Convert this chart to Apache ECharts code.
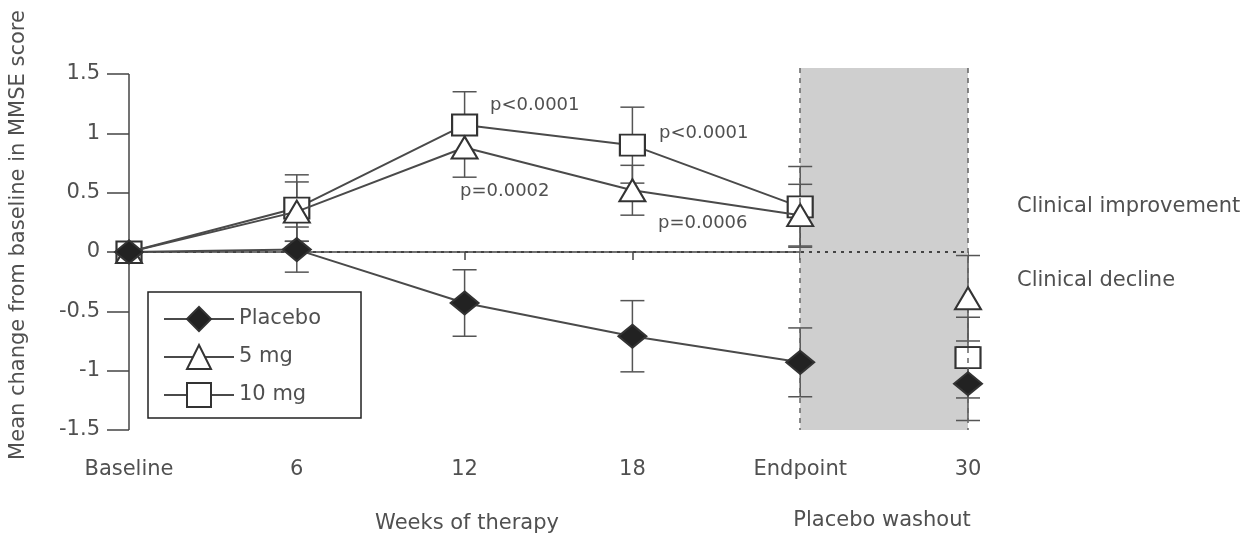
<!DOCTYPE html>
<html>
<head>
<meta charset="utf-8">
<script src="https://cdn.jsdelivr.net/npm/echarts@6/dist/echarts.min.js"></script>
<style>html,body{margin:0;padding:0;background:#fff}#c{width:1240px;height:541px}</style>
</head>
<body>
<div id="c"></div>
<script>
const categories = ['Baseline', '6', '12', '18', 'Endpoint', '30'];
const yTicks = [-1.5, -1, -0.5, 0, 0.5, 1, 1.5];
const placebo = [0, 0.02, -0.43, -0.71, -0.93, -1.11];
const placeboErr = [0, 0.19, 0.28, 0.30, 0.29, 0.31];
const mg5 = [0, 0.34, 0.88, 0.52, 0.31, -0.39];
const mg5Err = [0, 0.25, 0.25, 0.21, 0.26, 0.36];
const mg10 = [0, 0.37, 1.07, 0.90, 0.38, -0.89];
const mg10Err = [0, 0.28, 0.28, 0.32, 0.34, 0.34];
const seriesNames = ['Placebo', '5 mg', '10 mg'];
const pLabels = ['p<0.0001', 'p<0.0001', 'p=0.0002', 'p=0.0006', 'p=0.0002', 'p=0.0007'];
const shadeTop = 1.55;

const FONT = 'DejaVu Sans';
const TXT = '#505050';
const LINE = '#4a4a4a';
const washIdx = categories.length - 1;
const yMin = yTicks[0], yMaxTick = yTicks[yTicks.length - 1];

function lineData(vals) { return vals.map((v, i) => i === washIdx ? '-' : v); }
function washData(vals) { return [[washIdx, vals[washIdx]]]; }
function errData(vals, errs) {
  const out = [];
  vals.forEach((v, i) => { if (errs[i] > 0) out.push([i, v - errs[i], v + errs[i]]); });
  return out;
}
function renderErr(params, api) {
  const x = api.value(0);
  const lo = api.coord([x, api.value(1)]);
  const hi = api.coord([x, api.value(2)]);
  const w = 12;
  const st = { stroke: '#555', lineWidth: 1.5 };
  return { type: 'group', children: [
    { type: 'line', shape: { x1: lo[0], y1: lo[1], x2: hi[0], y2: hi[1] }, style: st },
    { type: 'line', shape: { x1: lo[0] - w, y1: lo[1], x2: lo[0] + w, y2: lo[1] }, style: st },
    { type: 'line', shape: { x1: hi[0] - w, y1: hi[1], x2: hi[0] + w, y2: hi[1] }, style: st }
  ]};
}

const styles = [
  { name: seriesNames[2], vals: mg10, errs: mg10Err, symbol: 'rect', size: [25, 21], fill: '#fff' },
  { name: seriesNames[1], vals: mg5, errs: mg5Err, symbol: 'triangle', size: [26, 22], fill: '#fff' },
  { name: seriesNames[0], vals: placebo, errs: placeboErr, symbol: 'diamond', size: [28, 23], fill: '#222' }
];

const series = [];
// shading
series.push({
  type: 'line', name: 'shade', data: [], silent: true, z: 0,
  markArea: {
    silent: true,
    itemStyle: { color: '#cfcfcf' },
    data: [[{ xAxis: categories[4], yAxis: shadeTop }, { xAxis: categories[5], yAxis: yMin }]]
  }
});
// guide lines: washout borders, zero line, y axis line
const dashV = { color: '#666', width: 1.5, type: [5, 5] };
series.push({
  type: 'line', name: 'guides', data: [], silent: true, z: 2,
  markLine: {
    silent: true, symbol: 'none', label: { show: false },
    data: [
      [{ coord: [categories[4], shadeTop], lineStyle: dashV }, { coord: [categories[4], yMin] }],
      [{ coord: [categories[5], shadeTop], lineStyle: dashV }, { coord: [categories[5], yMin] }],
      { yAxis: 0, lineStyle: { color: '#444', width: 2, type: [3, 5] } },
      [{ coord: [categories[0], yMaxTick], lineStyle: { color: '#444', width: 1.5, type: 'solid' } }, { coord: [categories[0], yMin] }]
    ]
  }
});
styles.forEach((s) => {
  series.push({
    type: 'custom', name: s.name + ' err', renderItem: renderErr, data: errData(s.vals, s.errs),
    z: 3, silent: true
  });
});
styles.forEach((s, k) => {
  const itemStyle = { color: s.fill, borderColor: '#333', borderWidth: 2, opacity: 1 };
  series.push({
    type: 'line', name: s.name, data: lineData(s.vals), symbol: s.symbol, symbolSize: s.size,
    showAllSymbol: true, lineStyle: { color: LINE, width: 2 }, itemStyle: itemStyle,
    z: 4 + k
  });
  series.push({
    type: 'scatter', name: s.name, data: washData(s.vals), symbol: s.symbol, symbolSize: s.size,
    itemStyle: itemStyle, z: 4 + k
  });
});

const annot = [
  { t: pLabels[0], x: 490, y: 105 },
  { t: pLabels[1], x: 659, y: 133 },
  { t: pLabels[2], x: 460, y: 191 },
  { t: pLabels[3], x: 658, y: 223 },
  { t: pLabels[4], x: 831, y: 200 },
  { t: pLabels[5], x: 849, y: 222 }
];
const F = (s) => s + 'px "' + FONT + '"';
const graphic = annot.map(a => ({
  type: 'text', x: a.x, y: a.y,
  style: { text: a.t, font: F(18), fill: TXT, align: 'left', verticalAlign: 'middle' }
}));
graphic.push(
  { type: 'text', x: 19, y: 235, rotation: Math.PI / 2,
    style: { text: 'Mean change from baseline in MMSE score', font: F(21), fill: TXT, align: 'center', verticalAlign: 'middle' } },
  { type: 'text', x: 467, y: 524, style: { text: 'Weeks of therapy', font: F(21), fill: TXT, align: 'center', verticalAlign: 'middle' } },
  { type: 'text', x: 882, y: 521, style: { text: 'Placebo washout', font: F(21), fill: TXT, align: 'center', verticalAlign: 'middle' } },
  { type: 'text', x: 1017, y: 207, style: { text: 'Clinical improvement', font: F(21), fill: TXT, align: 'left', verticalAlign: 'middle' } },
  { type: 'text', x: 1017, y: 281, style: { text: 'Clinical decline', font: F(21), fill: TXT, align: 'left', verticalAlign: 'middle' } }
);

const chart = echarts.init(document.getElementById('c'), null, { renderer: 'canvas' });
chart.setOption({
  animation: false,
  backgroundColor: '#fff',
  textStyle: { fontFamily: FONT },
  grid: { left: 129, right: 272, top: 68, bottom: 111, containLabel: false },
  xAxis: {
    type: 'category', data: categories, boundaryGap: false,
    axisLine: { lineStyle: { color: '#444', width: 1.5 } },
    axisTick: { length: 8, lineStyle: { color: '#444', width: 1.5 } },
    axisLabel: { fontSize: 21, color: TXT, margin: 29, fontFamily: FONT },
    splitLine: { show: false }
  },
  yAxis: {
    type: 'value', min: yMin, max: shadeTop, interval: 0.5,
    axisLine: { show: false },
    axisTick: { show: true, length: 22, customValues: yTicks, lineStyle: { color: '#444', width: 1.5 } },
    axisLabel: { fontSize: 21, color: TXT, margin: 29, fontFamily: FONT, customValues: yTicks },
    splitLine: { show: false }
  },
  legend: {
    data: seriesNames, orient: 'vertical', left: 148, top: 292,
    itemWidth: 70, itemHeight: 30, itemGap: 12,
    padding: [14, 40, 10, 15],
    borderColor: '#222', borderWidth: 1.5, backgroundColor: '#fff',
    textStyle: { fontSize: 21, color: TXT, fontFamily: FONT },
    selectedMode: false
  },
  series: series,
  graphic: graphic
});
</script>
</body>
</html>
